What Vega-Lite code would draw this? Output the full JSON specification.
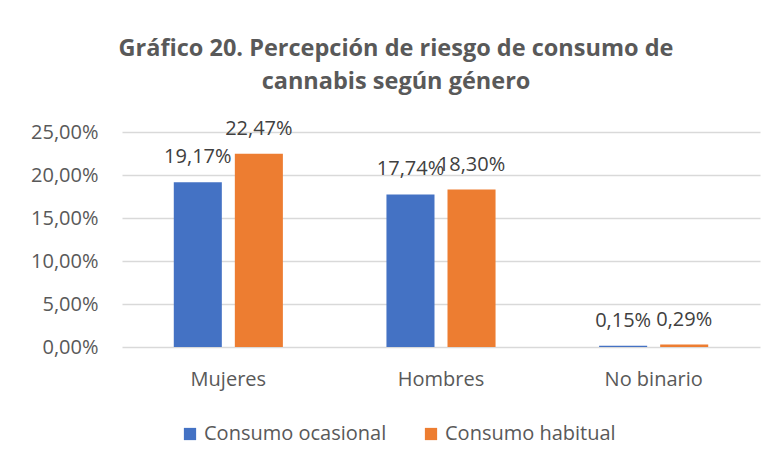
{
  "$schema": "https://vega.github.io/schema/vega-lite/v6.json",
  "autosize": {"type": "none"},
  "width": 638,
  "height": 215,
  "padding": {"left": 122, "top": 132, "right": 17, "bottom": 116},
  "background": "white",
  "config": {
    "locale": {"number": {"decimal": ",", "thousands": ".", "grouping": [3], "currency": ["", " €"]}},
    "view": {"stroke": null},
    "font": "Open Sans"
  },
  "title": {
    "text": ["Gráfico 20. Percepción de riesgo de consumo de", "cannabis según género"],
    "font": "Open Sans",
    "fontSize": 23.5,
    "fontWeight": "bold",
    "color": "#595959",
    "anchor": "middle",
    "dx": -45,
    "baseline": "alphabetic",
    "offset": 6,
    "lineHeight": 33
  },
  "data": {
    "values": [
      {"genero": "Mujeres", "tipo": "Consumo ocasional", "valor": 0.1917},
      {"genero": "Mujeres", "tipo": "Consumo habitual", "valor": 0.2247},
      {"genero": "Hombres", "tipo": "Consumo ocasional", "valor": 0.1774},
      {"genero": "Hombres", "tipo": "Consumo habitual", "valor": 0.1830},
      {"genero": "No binario", "tipo": "Consumo ocasional", "valor": 0.0015},
      {"genero": "No binario", "tipo": "Consumo habitual", "valor": 0.0029}
    ]
  },
  "encoding": {
    "x": {
      "field": "genero",
      "type": "nominal",
      "sort": ["Mujeres", "Hombres", "No binario"],
      "scale": {"paddingInner": 0.487, "paddingOuter": 0.2435},
      "axis": {
        "title": null,
        "labelAngle": 0,
        "labelFontSize": 20,
        "labelColor": "#595959",
        "labelPadding": 22,
        "ticks": false,
        "domain": false
      }
    },
    "xOffset": {
      "field": "tipo",
      "type": "nominal",
      "sort": ["Consumo ocasional", "Consumo habitual"],
      "scale": {"paddingInner": 0.213, "paddingOuter": 0}
    },
    "y": {
      "field": "valor",
      "type": "quantitative",
      "scale": {"domain": [0, 0.25], "nice": false},
      "axis": {
        "title": null,
        "values": [0, 0.05, 0.1, 0.15, 0.2, 0.25],
        "format": ".2%",
        "labelFontSize": 20,
        "labelColor": "#595959",
        "labelPadding": 24,
        "ticks": false,
        "domain": false,
        "gridColor": "#d9d9d9",
        "gridWidth": 1.5
      }
    }
  },
  "layer": [
    {
      "mark": {"type": "bar"},
      "encoding": {
        "color": {
          "field": "tipo",
          "type": "nominal",
          "sort": ["Consumo ocasional", "Consumo habitual"],
          "scale": {"domain": ["Consumo ocasional", "Consumo habitual"], "range": ["#4472C4", "#ED7D31"]},
          "legend": {
            "title": null,
            "orient": "none",
            "direction": "horizontal",
            "legendX": 58,
            "legendY": 292,
            "symbolType": "square",
            "symbolSize": 150,
            "symbolStrokeWidth": 0,
            "symbolOpacity": 1,
            "labelFontSize": 20,
            "labelColor": "#595959",
            "labelOffset": 4,
            "columnPadding": 34,
            "labelLimit": 300
          }
        }
      }
    },
    {
      "mark": {"type": "text", "baseline": "alphabetic", "dy": -19, "fontSize": 20, "color": "#404040"},
      "encoding": {
        "text": {"field": "valor", "type": "quantitative", "format": ".2%"}
      }
    }
  ]
}
